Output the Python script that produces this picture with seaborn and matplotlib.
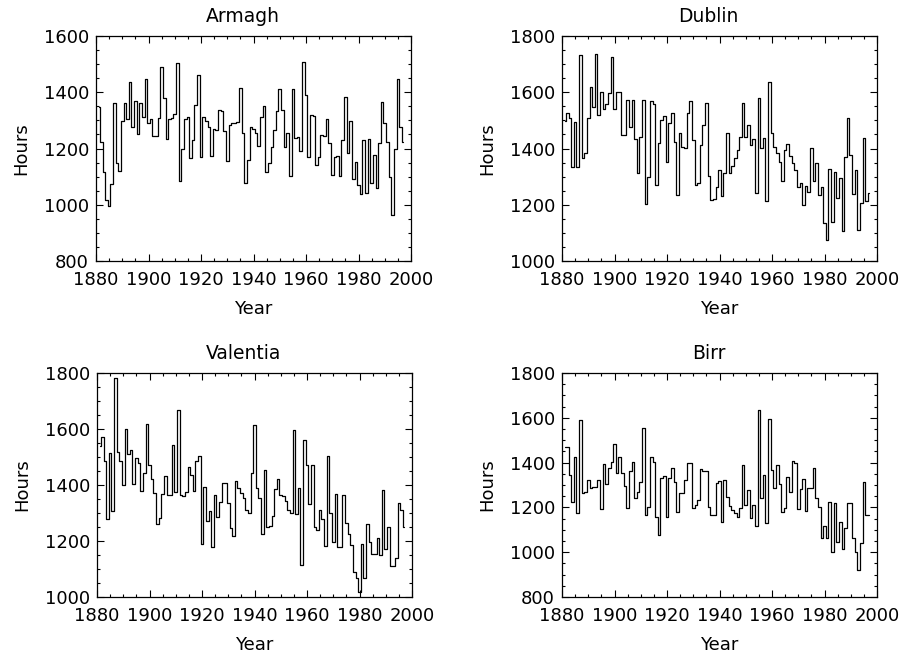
import numpy as np
import pandas as pd
import matplotlib
matplotlib.use("Agg")
import matplotlib.pyplot as plt
import seaborn as sns
from matplotlib.ticker import MultipleLocator

# yearly sunshine hours, 1881-1997
years = list(range(1881, 1998))

armagh = [1346, 1224, 1118, 1017, 996, 1074, 1363, 1150, 1121, 1299,
          1361, 1304, 1438, 1275, 1369, 1252, 1361, 1313, 1446, 1290,
          1305, 1244, 1244, 1307, 1491, 1378, 1233, 1304, 1307, 1323,
          1503, 1086, 1197, 1304, 1313, 1167, 1230, 1355, 1461, 1169,
          1311, 1299, 1278, 1173, 1268, 1266, 1337, 1335, 1263, 1157,
          1284, 1290, 1292, 1295, 1414, 1254, 1076, 1159, 1278, 1270,
          1254, 1209, 1311, 1351, 1118, 1147, 1207, 1266, 1335, 1410,
          1337, 1204, 1256, 1102, 1410, 1236, 1242, 1192, 1509, 1390,
          1171, 1319, 1317, 1141, 1171, 1248, 1244, 1304, 1218, 1106,
          1171, 1173, 1102, 1230, 1382, 1185, 1298, 1090, 1153, 1070,
          1037, 1230, 1041, 1233, 1079, 1177, 1061, 1218, 1367, 1292,
          1224, 1100, 964, 1198, 1447, 1275, 1222]

dublin = [1499, 1525, 1507, 1333, 1495, 1335, 1732, 1365, 1383, 1507,
          1617, 1546, 1736, 1519, 1602, 1540, 1558, 1596, 1727, 1540,
          1602, 1600, 1448, 1448, 1572, 1475, 1572, 1433, 1312, 1440,
          1573, 1203, 1300, 1570, 1558, 1270, 1418, 1501, 1516, 1353,
          1490, 1527, 1424, 1235, 1456, 1407, 1401, 1525, 1569, 1430,
          1270, 1276, 1412, 1484, 1561, 1302, 1217, 1220, 1264, 1324,
          1231, 1312, 1456, 1314, 1338, 1365, 1395, 1442, 1563, 1442,
          1484, 1412, 1433, 1243, 1578, 1401, 1436, 1215, 1638, 1456,
          1407, 1385, 1353, 1286, 1396, 1416, 1373, 1347, 1324, 1264,
          1276, 1199, 1267, 1247, 1401, 1286, 1350, 1235, 1262, 1134,
          1075, 1326, 1139, 1318, 1223, 1294, 1107, 1370, 1507, 1377,
          1238, 1324, 1110, 1205, 1436, 1215, 1243]

valentia = [1538, 1570, 1485, 1277, 1514, 1307, 1783, 1518, 1485, 1399,
            1601, 1511, 1526, 1404, 1497, 1479, 1380, 1443, 1617, 1471,
            1420, 1372, 1260, 1281, 1369, 1431, 1364, 1363, 1544, 1375,
            1668, 1365, 1360, 1375, 1463, 1437, 1378, 1485, 1503, 1188,
            1392, 1271, 1307, 1179, 1364, 1285, 1340, 1408, 1408, 1336,
            1245, 1218, 1416, 1388, 1373, 1354, 1309, 1301, 1443, 1615,
            1388, 1354, 1224, 1455, 1250, 1254, 1289, 1384, 1423, 1366,
            1360, 1343, 1309, 1300, 1596, 1295, 1390, 1114, 1562, 1473,
            1333, 1473, 1250, 1238, 1310, 1277, 1182, 1502, 1299, 1197,
            1368, 1179, 1180, 1366, 1265, 1224, 1186, 1088, 1068, 1017,
            1188, 1068, 1260, 1197, 1153, 1153, 1210, 1150, 1381, 1171,
            1250, 1112, 1112, 1141, 1337, 1309, 1250]

birr = [1471, 1471, 1345, 1226, 1426, 1174, 1590, 1263, 1270, 1322,
        1285, 1293, 1290, 1322, 1193, 1392, 1303, 1375, 1401, 1482,
        1352, 1426, 1352, 1297, 1199, 1362, 1401, 1240, 1270, 1312,
        1556, 1166, 1203, 1426, 1404, 1159, 1077, 1330, 1340, 1159,
        1330, 1375, 1315, 1181, 1263, 1263, 1322, 1397, 1397, 1196,
        1211, 1233, 1371, 1362, 1362, 1203, 1168, 1168, 1307, 1318,
        1136, 1322, 1248, 1208, 1188, 1174, 1155, 1199, 1390, 1211,
        1278, 1152, 1211, 1118, 1635, 1243, 1345, 1129, 1595, 1367,
        1285, 1390, 1303, 1181, 1196, 1337, 1267, 1409, 1397, 1193,
        1282, 1327, 1184, 1285, 1285, 1378, 1243, 1203, 1065, 1117,
        1062, 1226, 999, 1218, 1047, 1133, 1013, 1107, 1221, 1221,
        1065, 1002, 920, 1040, 1315, 1166, 1166]

stations = ["Armagh", "Dublin", "Valentia", "Birr"]
series = [armagh, dublin, valentia, birr]
y_ranges = [(800, 1600), (1000, 1800), (1000, 1800), (800, 1800)]

sns.set_style("ticks")
plt.rcParams["font.family"] = ["DejaVu Sans"]
plt.rcParams["text.color"] = "black"
plt.rcParams["axes.labelcolor"] = "black"
plt.rcParams["axes.titlecolor"] = "black"

W, H = 901, 655
fig = plt.figure(figsize=(W / 100, H / 100), dpi=100)

# axes boxes in pixels: left, top, width, height
boxes = [(96, 36, 315, 225), (562, 36, 315, 225),
         (97, 373, 315, 224), (562, 373, 315, 224)]

for name, vals, (lo, hi), (bx, by, bw, bh) in zip(stations, series, y_ranges, boxes):
    ax = fig.add_axes([bx / W, 1 - (by + bh) / H, bw / W, bh / H])
    df = pd.DataFrame({"Year": years, "Hours": vals})
    sns.lineplot(data=df, x="Year", y="Hours", drawstyle="steps-mid",
                 color="black", linewidth=0.9, ax=ax)
    ax.set_xlim(1880, 2000)
    ax.set_ylim(lo, hi)
    ax.xaxis.set_major_locator(MultipleLocator(20))
    ax.xaxis.set_minor_locator(MultipleLocator(5))
    ax.yaxis.set_major_locator(MultipleLocator(200))
    ax.yaxis.set_minor_locator(MultipleLocator(50))
    ax.tick_params(which="both", direction="in", top=True, right=True,
                   labelsize=13, color="black", labelcolor="black")
    ax.tick_params(which="major", length=5, width=0.8)
    ax.tick_params(which="minor", length=2.5, width=0.8)
    ax.tick_params(axis="x", pad=7)
    ax.tick_params(axis="y", pad=5)
    for sp in ax.spines.values():
        sp.set_visible(True)
        sp.set_linewidth(0.9)
        sp.set_color("black")
    ax.set_title(name, fontsize=13.5, pad=10, color="black", x=0.465)
    ax.set_xlabel("Year", fontsize=13, labelpad=8)
    ax.set_ylabel("Hours", fontsize=13, labelpad=10)

fig.savefig("out.png", dpi=100, facecolor="white")
